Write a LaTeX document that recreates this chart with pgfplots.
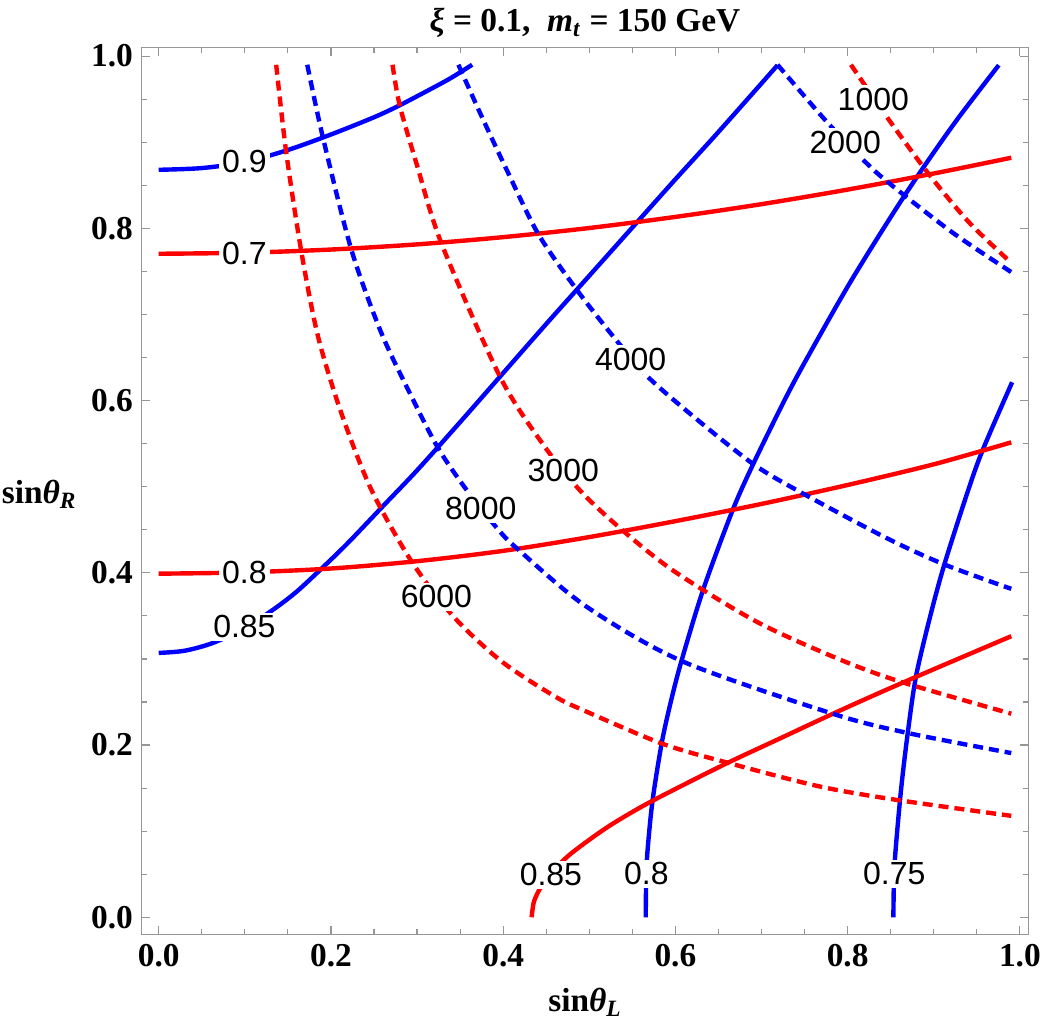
\documentclass[border=0pt]{standalone}
\usepackage{pgfplots}
\pgfplotsset{compat=1.18}
\usepackage{fontspec}
\setmainfont{Liberation Serif}
\newfontfamily\labelfont{Liberation Sans}

\definecolor{framegray}{RGB}{150,150,150}
\definecolor{cred}{RGB}{255,0,0}
\definecolor{cblue}{RGB}{0,0,255}

\newcommand{\ticksize}{\fontsize{16.7}{20}\selectfont}
\newcommand{\lblsize}{\labelfont\fontsize{16}{19}\selectfont}

\pgfplotsset{
  solidline/.style={line width=2.2pt, smooth},
  dashline/.style={line width=2.2pt, smooth, dash pattern=on 5pt off 3pt},
}
\tikzset{
  clabel/.style={fill=white, inner sep=1.5pt, text=black, font=\lblsize},
}

\begin{document}
\begin{tikzpicture}
\begin{axis}[
  scale only axis, width=443.4pt, height=443.4pt,
  xmin=-0.0198, xmax=1.0098, ymin=-0.0198, ymax=1.0098,
  xtick={0,0.2,0.4,0.6,0.8,1}, ytick={0,0.2,0.4,0.6,0.8,1},
  minor tick num=3,
  tick align=inside, major tick length=4pt, minor tick length=2.5pt,
  axis line style={draw=framegray, line width=0.6pt},
  every tick/.append style={framegray, line width=0.6pt},
  /pgf/number format/fixed, /pgf/number format/fixed zerofill,
  /pgf/number format/precision=1, /pgf/number format/assume math mode=true,
  ticklabel style={font=\ticksize\bfseries},
  xticklabel style={anchor=north, inner sep=0pt, yshift=-5pt},
  yticklabel style={anchor=east, inner sep=0pt, xshift=-4.2pt},
  xlabel={\bfseries sin\textit{θ}\textsubscript{\textit{L}}},
  ylabel={\bfseries sin\textit{θ}\textsubscript{\textit{R}}},
  xlabel style={at={(axis description cs:0.5,0)}, anchor=base, inner sep=0pt,
                yshift=-38.35pt, font=\ticksize},
  ylabel style={rotate=-90, at={(axis description cs:0,0.5)}, anchor=base east,
                inner sep=0pt, xshift=-32.35pt, yshift=-6pt, font=\ticksize},
  title={\bfseries\textit{ξ} = 0.1,\ \ \textit{m}\textsubscript{\textit{t}} = 150 GeV},
  title style={at={(axis description cs:0.5,1)}, anchor=base, inner sep=0pt,
               yshift=2.2pt, font=\ticksize},
]

% solid contours (blue)
\addplot[cblue, solidline] coordinates {
  (0,0.868) (0.05,0.870) (0.10,0.877) (0.15,0.891) (0.20,0.909)
  (0.25,0.929) (0.28,0.943) (0.32,0.964) (0.34,0.975) (0.364,0.990)};
\addplot[cblue, solidline] coordinates {
  (0,0.307) (0.03,0.3095) (0.063,0.3186) (0.10,0.336) (0.133,0.3573)
  (0.16,0.378) (0.19,0.4058) (0.22,0.435) (0.26,0.477) (0.30,0.519)
  (0.35,0.575) (0.40,0.632) (0.45,0.689) (0.50,0.745) (0.55,0.801)
  (0.60,0.857) (0.65,0.912) (0.7186,0.9895)};
\addplot[cblue, solidline] coordinates {
  (0.5655,0) (0.566,0.04) (0.5674,0.0744) (0.5733,0.1344) (0.5841,0.2023)
  (0.5946,0.25) (0.6069,0.2972) (0.6323,0.3806) (0.666,0.4716)
  (0.690,0.5256) (0.7265,0.60) (0.752,0.6477) (0.805,0.7407)
  (0.867,0.8395) (0.9225,0.92) (0.9755,0.9895)};
\addplot[cblue, solidline] coordinates {
  (0.8531,0) (0.8537,0.04) (0.8554,0.0744) (0.862,0.148) (0.8698,0.214)
  (0.8794,0.2798) (0.896,0.35) (0.9123,0.4097) (0.9395,0.4945)
  (0.957,0.543) (0.991,0.6213)};

% solid contours (red)
\addplot[cred, solidline] coordinates {
  (0,0.7705) (0.1,0.7717) (0.2,0.7754) (0.3,0.7814) (0.4,0.7898)
  (0.5,0.8004) (0.6,0.8133) (0.7,0.8281) (0.8,0.8450) (0.9,0.8637)
  (0.99,0.8820)};
\addplot[cred, solidline] coordinates {
  (0,0.399) (0.1,0.4005) (0.2,0.405) (0.3,0.4135) (0.4,0.4255)
  (0.5,0.4415) (0.6,0.460) (0.7,0.480) (0.8,0.502) (0.9,0.526)
  (0.99,0.5515)};
\addplot[cred, solidline] coordinates {
  (0.433,0) (0.436,0.019) (0.445,0.037) (0.46,0.056) (0.48,0.075)
  (0.52,0.104) (0.56,0.128) (0.60,0.149) (0.66,0.179) (0.72,0.207)
  (0.78,0.235) (0.84,0.262) (0.90,0.288) (0.99,0.3264)};

% dashed contours (red)
\addplot[cred, dashline] coordinates {
  (0.1364,0.99) (0.148,0.8887) (0.1655,0.7736) (0.1849,0.6748)
  (0.212,0.5856) (0.2469,0.4965) (0.2934,0.4135) (0.3419,0.3496)
  (0.398,0.2972) (0.46,0.2565) (0.4963,0.239) (0.5849,0.2015)
  (0.6624,0.179) (0.767,0.152) (0.8562,0.1364) (0.99,0.1178)};
\addplot[cred, dashline] coordinates {
  (0.2715,0.99) (0.2798,0.943) (0.300,0.873) (0.3283,0.7826) (0.396,0.6283)
  (0.4465,0.5488) (0.4899,0.4949) (0.5384,0.4495) (0.5984,0.4019)
  (0.6934,0.3437) (0.7864,0.3012) (0.86,0.274) (0.99,0.2364)};
\addplot[cred, dashline] coordinates {
  (0.8038,0.99) (0.8465,0.928) (0.895,0.862) (0.9414,0.8065) (0.99,0.76)};

% dashed contours (blue)
\addplot[cblue, dashline] coordinates {
  (0.1725,0.99) (0.1907,0.9054) (0.2236,0.7756) (0.2585,0.6786)
  (0.2934,0.605) (0.3244,0.5449) (0.3573,0.4965) (0.3942,0.4503)
  (0.4174,0.4271) (0.4963,0.361) (0.6081,0.2972) (0.7826,0.2364)
  (0.8698,0.214) (0.99,0.1907)};
\addplot[cblue, dashline] coordinates {
  (0.348,0.99) (0.375,0.930) (0.405,0.866) (0.4407,0.7935) (0.4852,0.729)
  (0.5306,0.671) (0.5693,0.6263) (0.63,0.574) (0.6914,0.5256)
  (0.7437,0.4945) (0.8445,0.4407) (0.9123,0.4097) (0.99,0.3814)};
\addplot[cblue, dashline] coordinates {
  (0.7186,0.99) (0.7748,0.9248) (0.8193,0.8783) (0.8484,0.8523)
  (0.9221,0.7949) (0.99,0.7492)};

% contour labels
\node[clabel] at (axis cs:0.0995,0.878) {0.9};
\node[clabel] at (axis cs:0.0995,0.771) {0.7};
\node[clabel] at (axis cs:0.0995,0.4007) {0.8};
\node[clabel] at (axis cs:0.0995,0.3372) {0.85};
\node[clabel] at (axis cs:0.3224,0.372) {6000};
\node[clabel] at (axis cs:0.374,0.4744) {8000};
\node[clabel] at (axis cs:0.4698,0.5193) {3000};
\node[clabel] at (axis cs:0.548,0.6477) {4000};
\node[clabel] at (axis cs:0.7972,0.8995) {2000};
\node[clabel] at (axis cs:0.8298,0.95) {1000};
\node[clabel] at (axis cs:0.4554,0.0492) {0.85};
\node[clabel] at (axis cs:0.5663,0.0503) {0.8};
\node[clabel] at (axis cs:0.8542,0.0503) {0.75};
\end{axis}
\pgfresetboundingbox
\path ([xshift=-70.85pt,yshift=-46.5pt]current axis.south west)
  rectangle ([xshift=6.85pt,yshift=23.85pt]current axis.north east);
\end{tikzpicture}
\end{document}
